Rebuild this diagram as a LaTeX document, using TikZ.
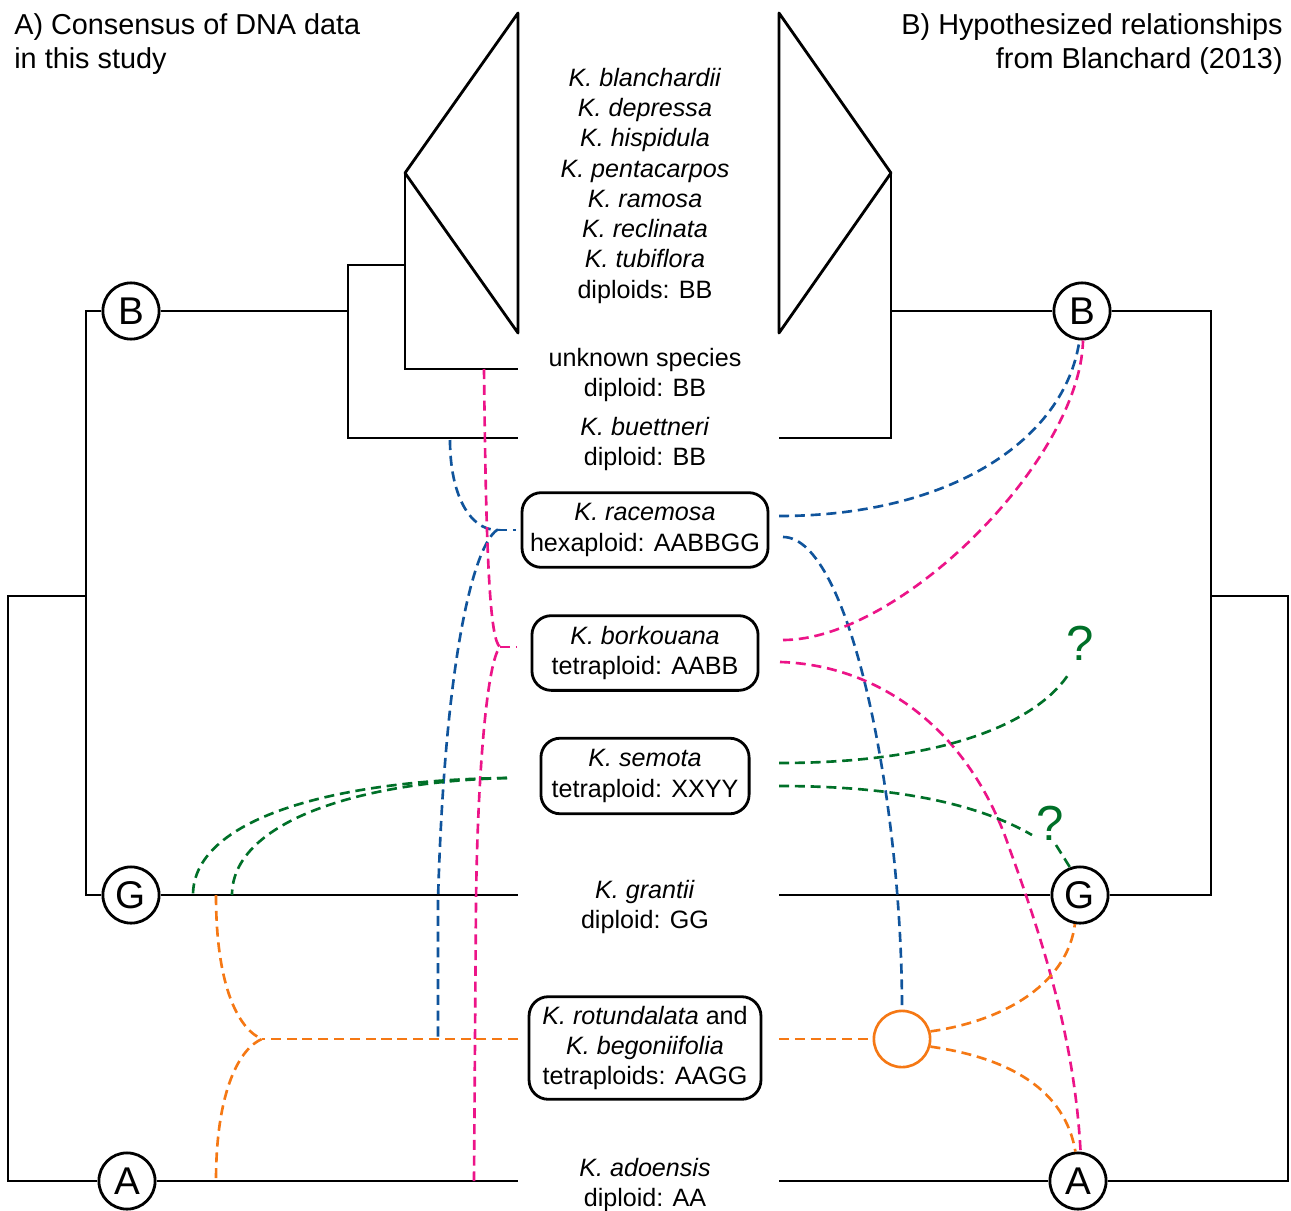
\documentclass[tikz,border=0pt]{standalone}
\usepackage{fontspec}
\setmainfont{Liberation Sans}
\usepackage{tikz}
\definecolor{linkblue}{RGB}{16,84,156}
\definecolor{linkpink}{RGB}{236,20,136}
\definecolor{linkgreen}{RGB}{0,112,40}
\definecolor{linkorange}{RGB}{245,120,20}
\tikzstyle{branch} = [line width=1.6pt]
\tikzstyle{genome} = [circle, draw, line width=1.6pt, fill=white, minimum size=32pt,
                      inner sep=0pt, font=\fontsize{22}{22}\selectfont]
\tikzstyle{taxbox} = [rectangle, rounded corners=11pt, draw, line width=1.6pt, align=center,
                      inner sep=0pt, font=\fontsize{14.3}{17.2}\selectfont]
\tikzstyle{taxon} = [align=center, inner sep=0pt, anchor=north, font=\fontsize{14.3}{17.2}\selectfont]
\tikzstyle{heading} = [inner sep=0pt, font=\fontsize{16.4}{19.3}\selectfont]
\tikzstyle{dashlink} = [line width=1.5pt, dash pattern=on 5.7pt off 3.3pt]
\tikzstyle{bluelink} = [dashlink, draw=linkblue]
\tikzstyle{pinklink} = [dashlink, draw=linkpink]
\tikzstyle{greenlink} = [dashlink, draw=linkgreen]
\tikzstyle{orangelink} = [dashlink, draw=linkorange]
\tikzstyle{qmark} = [inner sep=0pt, text=linkgreen, font=\fontsize{28}{28}\selectfont]
\tikzstyle{hybrid} = [circle, draw=linkorange, line width=1.5pt, minimum size=32pt, inner sep=0pt]

\begin{document}
\begin{tikzpicture}[x=0.02cm, y=-0.02cm]
    \useasboundingbox (0,0) rectangle (1291,1210);

    % Headings
    \node[heading, anchor=north west, align=left] (headA) at (14,13) {A) Consensus of DNA data\\in this study};
    \node[heading, anchor=north east, align=right] (headB) at (1283,13) {B) Hypothesized relationships\\from Blanchard (2013)};

    % Taxa
    \node[taxon] (clade) at (645,68) {\textit{K. blanchardii}\\\textit{K. depressa}\\\textit{K. hispidula}\\\textit{K. pentacarpos}\\\textit{K. ramosa}\\\textit{K. reclinata}\\\textit{K. tubiflora}\\diploids: BB};
    \node[taxon] (unk) at (645,348) {unknown species\\diploid: BB};
    \node[taxon] (buet) at (645,417) {\textit{K. buettneri}\\diploid: BB};
    \node[taxbox, minimum width=140pt, minimum height=42.5pt] (rac) at (645,530) {\textit{K. racemosa}\\hexaploid: AABBGG};
    \node[taxbox, minimum width=128.7pt, minimum height=42.5pt] (bork) at (645,653) {\textit{K. borkouana}\\tetraploid: AABB};
    \node[taxbox, minimum width=118.5pt, minimum height=43pt] (semo) at (645,776) {\textit{K. semota}\\tetraploid: XXYY};
    \node[taxon] (grant) at (645,880) {\textit{K. grantii}\\diploid: GG};
    \node[taxbox, minimum width=132pt, minimum height=58.4pt] (rot) at (645,1048) {\textit{K. rotundalata} and\\\textit{K. begoniifolia}\\tetraploids: AAGG};
    \node[taxon] (ado) at (645,1158) {\textit{K. adoensis}\\diploid: AA};

    % Left tree
    \coordinate (lroot) at (8,596);
    \coordinate (lBG) at (86,596);
    \coordinate (lBc) at (348,311);
    \coordinate (lBsub) at (405,265);
    \coordinate (lApex) at (405,173);
    \coordinate (lTop) at (518,13);
    \coordinate (lBot) at (518,333);
    \coordinate (lUnk) at (518,369);
    \coordinate (lBuet) at (518,438);
    \coordinate (lGr) at (518,895);
    \coordinate (lAd) at (518,1181);
    \node[genome] (lB) at (131,311) {B};
    \node[genome] (lG) at (131,895) {G};
    \node[genome] (lA) at (127,1181) {A};
    \draw[branch] (lB.west) -| (lBG) |- (lG.west);
    \draw[branch] (lBG) -- (lroot) |- (lA.west);
    \draw[branch] (lB.east) -- (lBc);
    \draw[branch] (lBsub) -| (lBc) |- (lBuet);
    \draw[branch] (lApex) |- (lUnk);
    \draw[branch, line join=round] (lApex) -- (lTop) -- (lBot) -- cycle;
    \draw[branch] (lG.east) -- (lGr);
    \draw[branch] (lA.east) -- (lAd);

    % Right tree
    \coordinate (rroot) at (1288,596);
    \coordinate (rBG) at (1211,596);
    \coordinate (rBc) at (891,311);
    \coordinate (rApex) at (891,173);
    \coordinate (rTop) at (779,13);
    \coordinate (rBot) at (779,333);
    \coordinate (rBuet) at (779,438);
    \coordinate (rGr) at (779,895);
    \coordinate (rAd) at (779,1181);
    \node[genome] (rB) at (1082,311) {B};
    \node[genome] (rG) at (1080,895) {G};
    \node[genome] (rA) at (1078,1181) {A};
    \draw[branch] (rB.east) -| (rBG) |- (rG.east);
    \draw[branch] (rBG) -- (rroot) |- (rA.east);
    \draw[branch] (rB.west) -- (rBc);
    \draw[branch] (rApex) |- (rBuet);
    \draw[branch, line join=round] (rApex) -- (rTop) -- (rBot) -- cycle;
    \draw[branch] (rG.west) -- (rGr);
    \draw[branch] (rA.west) -- (rAd);

    % Links in A
    \coordinate (jb) at (497,530);
    \coordinate (racL) at (516,530);
    \coordinate (bUp) at (450,440);
    \coordinate (bDn) at (438,1039);
    \coordinate (jp) at (500,647);
    \coordinate (borkL) at (516,647);
    \coordinate (pUp) at (484,369);
    \coordinate (pDn) at (474,1181);
    \coordinate (gS) at (507,778);
    \coordinate (gG1) at (193,895);
    \coordinate (gG2) at (232,895);
    \coordinate (jo) at (262,1039);
    \coordinate (rotL) at (518,1039);
    \coordinate (oG) at (216,895);
    \coordinate (oA) at (216,1181);
    \draw[bluelink] (jb) -- (racL);
    \draw[bluelink] (bUp) .. controls (450,495) and (470,530) .. (jb)
        .. controls (475,545) and (445,650) .. (438,900) -- (bDn);
    \draw[pinklink] (jp) -- (borkL);
    \draw[pinklink] (pUp) .. controls (486,560) and (490,640) .. (jp)
        .. controls (488,660) and (478,760) .. (476,900) -- (pDn);
    \draw[greenlink] (gS) .. controls (330,780) and (193,820) .. (gG1);
    \draw[greenlink] (gS) .. controls (350,782) and (232,825) .. (gG2);
    \draw[orangelink] (rotL) -- (jo);
    \draw[orangelink] (oG) .. controls (216,990) and (240,1030) .. (jo)
        .. controls (240,1048) and (216,1090) .. (oA);

    % Links in B
    \coordinate (bR1) at (779,516);
    \coordinate (bR2) at (783,537);
    \coordinate (pR1) at (783,640);
    \coordinate (pR2) at (780,662);
    \coordinate (gR1) at (779,763);
    \coordinate (gR2) at (779,786);
    \coordinate (gQ1) at (1070,672);
    \coordinate (gQ2) at (1032,835);
    \coordinate (gQ2b) at (1056,845);
    \coordinate (oR) at (779,1039);
    \node[hybrid] (hyb) at (902,1039) {};
    \node[qmark] (q1) at (1080,643) {?};
    \node[qmark] (q2) at (1050,823) {?};
    \draw[bluelink] (bR1) .. controls (950,516) and (1065,440) .. (rB.265);
    \draw[bluelink] (bR2) .. controls (850,537) and (902,800) .. (hyb.north);
    \draw[pinklink] (pR1) .. controls (900,640) and (1080,460) .. (rB.272);
    \draw[pinklink] (pR2) .. controls (880,665) and (970,730) .. (1010,850)
        .. controls (1050,960) and (1075,1050) .. (rA.85);
    \draw[greenlink] (gR1) .. controls (950,763) and (1040,720) .. (gQ1);
    \draw[greenlink] (gR2) .. controls (900,786) and (980,805) .. (gQ2);
    \draw[greenlink] (gQ2b) -- (rG.110);
    \draw[orangelink] (oR) -- (hyb.west);
    \draw[orangelink] (hyb.15) .. controls (1010,1020) and (1068,980) .. (rG.260);
    \draw[orangelink] (hyb.-15) .. controls (1010,1058) and (1065,1090) .. (rA.95);
\end{tikzpicture}
\end{document}
